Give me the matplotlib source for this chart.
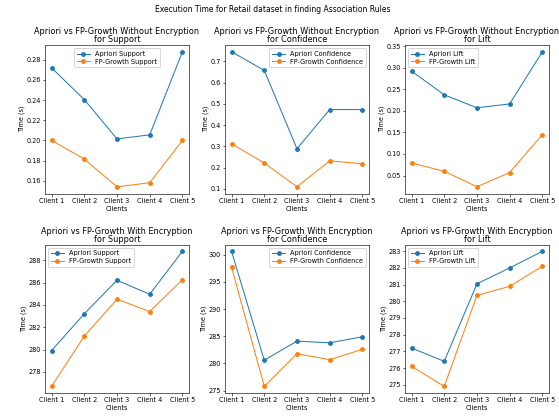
import numpy as np
import matplotlib; matplotlib.use("Agg")
import matplotlib.pyplot as plt

# ── Execution times (s) per client ───────────────────────────────────────────
clients = ["Client 1", "Client 2", "Client 3", "Client 4", "Client 5"]

# without encryption
apriori_support_plain    = [0.272, 0.2405, 0.2015, 0.2055, 0.288]
fpgrowth_support_plain   = [0.200, 0.1815, 0.154, 0.158, 0.200]
apriori_conf_plain       = [0.745, 0.657, 0.289, 0.473, 0.473]
fpgrowth_conf_plain      = [0.312, 0.222, 0.110, 0.232, 0.218]
apriori_lift_plain       = [0.292, 0.237, 0.207, 0.216, 0.337]
fpgrowth_lift_plain      = [0.079, 0.060, 0.024, 0.057, 0.145]

# with encryption
apriori_support_enc      = [279.9, 283.2, 286.2, 284.95, 288.8]
fpgrowth_support_enc     = [276.7, 281.2, 284.5, 283.4, 286.25]
apriori_conf_enc         = [300.6, 280.6, 284.1, 283.8, 284.9]
fpgrowth_conf_enc        = [297.7, 275.8, 281.8, 280.7, 282.6]
apriori_lift_enc         = [277.2, 276.4, 281.05, 282.0, 283.0]
fpgrowth_lift_enc        = [276.1, 274.9, 280.35, 280.9, 282.1]

panels = [
    ("Without", "Support",    apriori_support_plain, fpgrowth_support_plain, "upper center"),
    ("Without", "Confidence", apriori_conf_plain,    fpgrowth_conf_plain,    "upper right"),
    ("Without", "Lift",       apriori_lift_plain,    fpgrowth_lift_plain,    "upper left"),
    ("With",    "Support",    apriori_support_enc,   fpgrowth_support_enc,   "upper left"),
    ("With",    "Confidence", apriori_conf_enc,      fpgrowth_conf_enc,      "upper right"),
    ("With",    "Lift",       apriori_lift_enc,      fpgrowth_lift_enc,      "upper left"),
]

# ── Plot ─────────────────────────────────────────────────────────────────────
DPI = 72
fig, axes = plt.subplots(2, 3, figsize=(559 / DPI, 416 / DPI), dpi=DPI)
fig.suptitle("Execution Time for Retail dataset in finding Association Rules",
             fontsize=7.6, x=0.488, y=0.976, va="center")

for ax, (mode, metric, apr, fpg, loc) in zip(axes.flat, panels):
    ax.plot(clients, apr, "-o", color="#1f77b4", lw=1, ms=3.8,
            label=f"Apriori {metric}")
    ax.plot(clients, fpg, "-o", color="#ff7f0e", lw=1, ms=3.8,
            label=f"FP-Growth {metric}")
    ax.set_title(f"Apriori vs FP-Growth {mode} Encryption\nfor {metric}",
                 fontsize=8.1, linespacing=0.85, pad=3)
    ax.set_xlabel("Clients", fontsize=6.5, labelpad=2)
    ax.set_ylabel("Time (s)", fontsize=6.5, labelpad=2)
    ax.tick_params(labelsize=6.5, length=2.5, width=0.6, pad=1.5)
    for s in ax.spines.values():
        s.set_linewidth(0.6)
    ax.legend(loc=loc, fontsize=6.5, handlelength=2, borderpad=0.4,
              labelspacing=0.3, framealpha=0.8)

fig.subplots_adjust(left=0.0805, right=0.982, top=0.892, bottom=0.055,
                    wspace=0.25, hspace=0.343)
plt.savefig("out.png", dpi=DPI)
